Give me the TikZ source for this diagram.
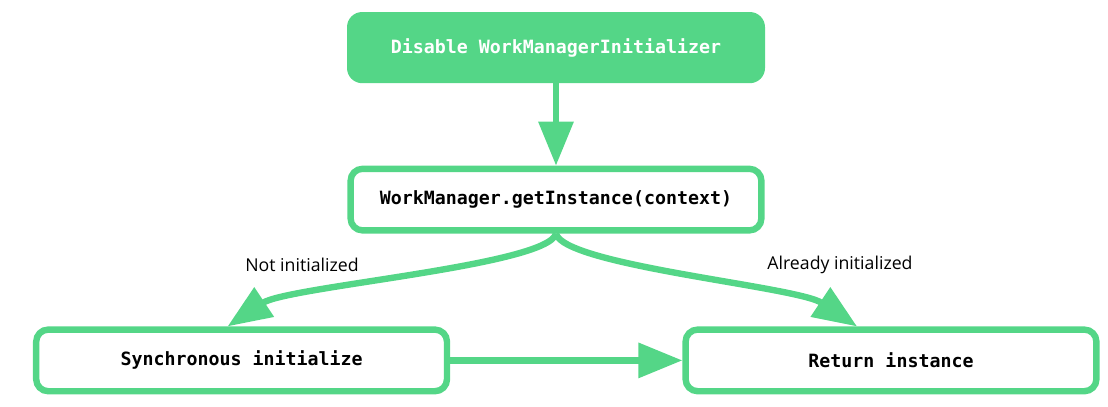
\documentclass[tikz,border=0pt]{standalone}
\usepackage{fontspec}
\setmonofont{DejaVu Sans Mono}
\setsansfont{Open Sans}
\usepackage{tikz}
\usetikzlibrary{arrows.meta,positioning}
\definecolor{wmgreen}{RGB}{84,214,135}

\begin{document}
\begin{tikzpicture}[>={Triangle[length=1.1cm,width=0.85cm]},
  box/.style={draw=wmgreen,line width=0.16cm,rounded corners=0.3cm,fill=white,
    minimum width=10.27cm,minimum height=1.54cm,font=\ttfamily\bfseries\fontsize{13}{15}\selectfont},
  topbox/.style={fill=wmgreen,rounded corners=0.38cm,text=white,
    minimum width=10.45cm,minimum height=1.78cm,font=\ttfamily\bfseries\fontsize{13}{15}\selectfont},
  flow/.style={->,draw=wmgreen,line width=0.16cm},
  lbl/.style={font=\sffamily\fontsize{12.6}{15}\selectfont}]
\useasboundingbox (0,0) rectangle (27.7,-10.15);
% boxes
\node[topbox] (disable) at (13.9,-1.19) {Disable WorkManagerInitializer};
\node[box] (getinst) at (13.9,-4.99) {WorkManager.getInstance(context)};
\node[box] (sync) at (6.04,-9.01) {Synchronous initialize};
\node[box] (ret) at (22.275,-9.01) {Return instance};
% connectors
\draw[flow] (disable) -- (getinst);
\draw[flow] (getinst.south) .. controls +(-0.2,-0.8) and +(1.5,1.0) .. ([xshift=-0.35cm]sync.north);
\draw[flow] (getinst.south) .. controls +(0.2,-0.8) and +(-1.5,1.0) .. ([xshift=-0.85cm]ret.north);
\draw[flow] (sync) -- (ret);
% branch labels
\node[lbl] (notinit) at (7.55,-6.625) {Not initialized};
\node[lbl] (already) at (21.0,-6.625) {Already initialized};
\end{tikzpicture}
\end{document}
